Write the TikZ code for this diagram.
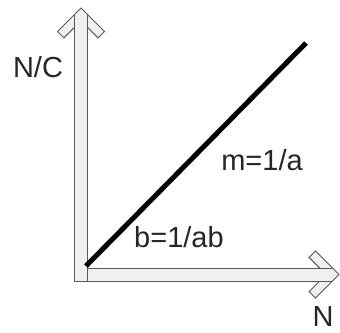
\documentclass[tikz,border=0pt]{standalone}
\usepackage{fontspec}
\setmainfont{Liberation Sans}
\begin{document}
\begin{tikzpicture}[x=1pt,y=-1pt,font=\fontsize{29}{34}\selectfont,
  arrowbody/.style={draw=black!65,fill=gray!12,line width=1pt,line join=miter},
  shaftline/.style={draw=black!65,line width=1pt},
  slope/.style={line width=5pt,black},
  lab/.style={anchor=base,inner sep=0pt,text=black!85}]
\useasboundingbox (0,0) rectangle (340,332);
\coordinate (ytip) at (81,8);
\coordinate (xtip) at (339,274.5);
\coordinate (lo) at (86,266);
\coordinate (hi) at (306,43);
% horizontal axis
\filldraw[arrowbody] (xtip) -- ++(-23.5,-23.5) -- ++(-6.4,6.4) -- ++(17.1,17.1)
  -- ++(-17.1,17.1) -- ++(6.4,6.4) -- cycle;
\fill[gray!12] (74,268) rectangle (332,281);
\draw[shaftline] (332,268) -- (74,268) -- (74,281) -- (332,281);
% vertical axis
\filldraw[arrowbody] (ytip) -- ++(-23.5,23.5) -- ++(6.4,6.4) -- ++(17.1,-17.1)
  -- ++(17.1,17.1) -- ++(6.4,-6.4) -- cycle;
\fill[gray!12] (74,15) rectangle (87,281);
\draw[shaftline] (74,15) -- (74,281) -- (87,281) -- (87,15);
% line
\draw[slope] (lo) -- (hi);
\node[lab] (ylab) at (38,77) {N/C};
\node[lab] (xlab) at (323,326) {N};
\node[lab] (mlab) at (262,170) {m=1/a};
\node[lab] (blab) at (179,247) {b=1/ab};
\end{tikzpicture}
\end{document}
